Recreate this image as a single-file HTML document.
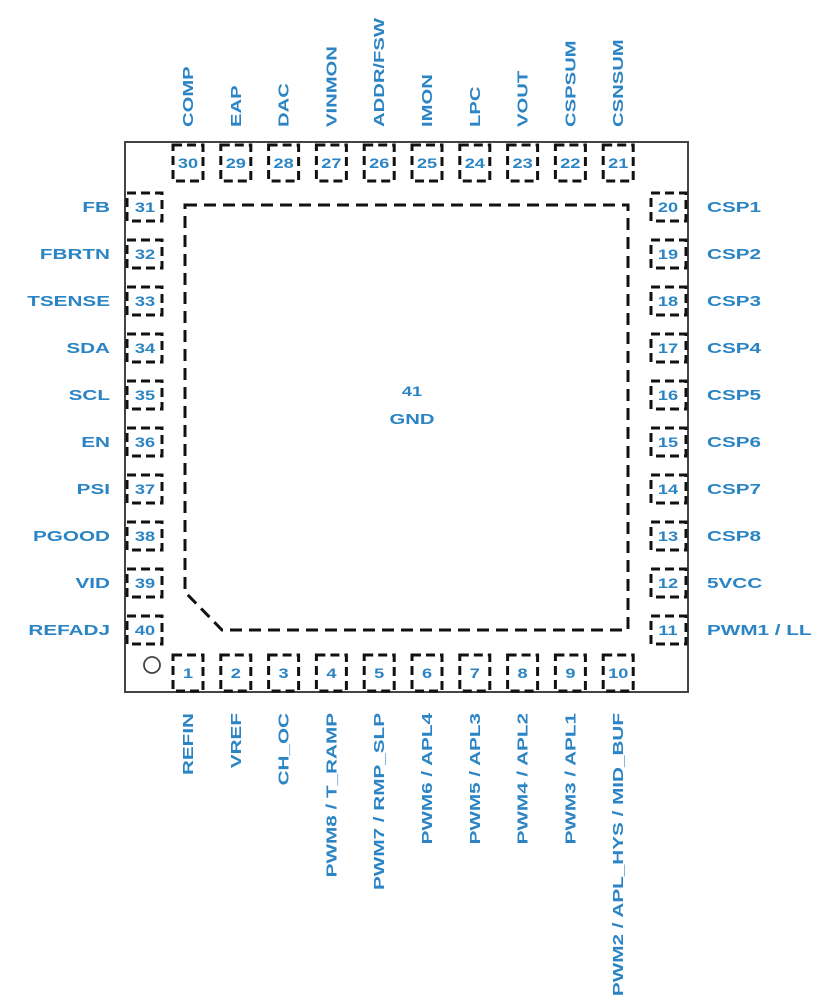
<!DOCTYPE html>
<html><head><meta charset="utf-8"><style>
html,body{margin:0;padding:0;background:#fff;}
svg{display:block;}
text{font-family:"Liberation Sans",sans-serif;font-weight:bold;fill:#2b84c4;}
</style></head><body>
<svg width="822" height="1000" viewBox="0 0 822 1000" xmlns="http://www.w3.org/2000/svg">
<rect x="125" y="142" width="563" height="550" fill="none" stroke="#444" stroke-width="2"/>
<path d="M185 205 H628 V630 H222 L185 592 Z" fill="none" stroke="#111" stroke-width="3" stroke-dasharray="12 7"/>
<circle cx="152" cy="665" r="8" fill="none" stroke="#444" stroke-width="1.8"/>
<g id="pins" fill="none" stroke="#111" stroke-width="3" stroke-dasharray="9 5"></g>
<g id="labels" font-size="15"></g>
</svg>
<script>
(function(){
var pins=document.getElementById('pins'),lab=document.getElementById('labels');
var NS='http://www.w3.org/2000/svg';
function rect(x,y,w,h){var r=document.createElementNS(NS,'rect');r.setAttribute('x',x);r.setAttribute('y',y);r.setAttribute('width',w);r.setAttribute('height',h);pins.appendChild(r);}
function txt(x,y,s,anchor,rot,size,sx){var t=document.createElementNS(NS,'text');t.setAttribute('x',0);t.setAttribute('y',0);t.setAttribute('text-anchor',anchor);if(size)t.setAttribute('font-size',size);
 t.setAttribute('transform','translate('+x+' '+y+')'+(rot?' rotate(-90)':'')+' scale('+(sx||1.4)+' 1)');t.textContent=s;lab.appendChild(t);}
var topL=['COMP','EAP','DAC','VINMON','ADDR/FSW','IMON','LPC','VOUT','CSPSUM','CSNSUM'];
var bot=['REFIN','VREF','CH_OC','PWM8 / T_RAMP','PWM7 / RMP_SLP','PWM6 / APL4','PWM5 / APL3','PWM4 / APL2','PWM3 / APL1','PWM2 / APL_HYS / MID_BUF'];
var left=['FB','FBRTN','TSENSE','SDA','SCL','EN','PSI','PGOOD','VID','REFADJ'];
var right=['CSP1','CSP2','CSP3','CSP4','CSP5','CSP6','CSP7','CSP8','5VCC','PWM1 / LL'];
for(var i=0;i<10;i++){
 var cx=188+47.8*i;
 rect(cx-15,145,30,36); txt(cx,168,String(30-i),'middle',0,14,1.3);
 txt(cx+5,127,topL[i],'start',1,15,1.35);
 rect(cx-15,655,30,36); txt(cx,678,String(i+1),'middle',0,14,1.3);
 txt(cx+5,713,bot[i],'end',1,15,1.38);
 var cy=207+47*i;
 rect(127,cy-14,35,28); txt(145,cy+5,String(31+i),'middle',0,14,1.3);
 txt(110,cy+5,left[i],'end',0,15,1.38);
 rect(651,cy-14,35,28); txt(668,cy+5,String(20-i),'middle',0,14,1.3);
 txt(707,cy+5,right[i],'start',0,15,1.38);
}
txt(412,396,'41','middle',0,14,1.3);
txt(412,424,'GND','middle',0,15,1.35);
})();
</script>
</body></html>
